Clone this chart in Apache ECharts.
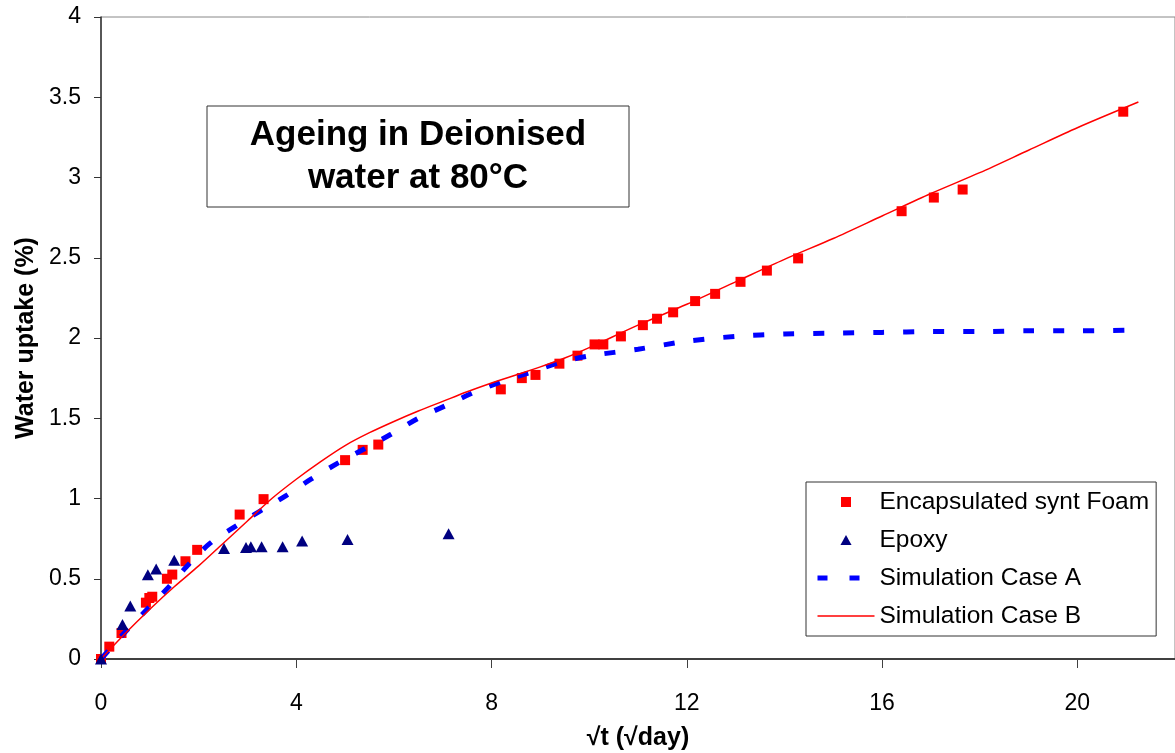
<!DOCTYPE html>
<html>
<head>
<meta charset="utf-8">
<script src="https://cdn.jsdelivr.net/npm/echarts@6/dist/echarts.min.js"></script>
<style>
  html, body { margin: 0; padding: 0; background: #fff; }
  #chart { width: 1175px; height: 753px; }
</style>
</head>
<body>
<div id="chart"></div>
<script>
// values (x = sqrt(day), y = water uptake %)
const foamX = [0, 0.17, 0.42, 0.92, 0.99, 1.05, 1.35, 1.46, 1.73, 1.97, 2.84, 3.33, 5.0, 5.36, 5.68, 8.19, 8.62, 8.9, 9.39, 9.76, 10.11, 10.29, 10.65, 11.1, 11.39, 11.72, 12.17, 12.58, 13.1, 13.64, 14.28, 16.4, 17.06, 17.65, 20.94];
const foamY = [0, 0.077, 0.162, 0.351, 0.38, 0.388, 0.5, 0.526, 0.609, 0.68, 0.9, 0.996, 1.239, 1.303, 1.336, 1.68, 1.75, 1.77, 1.84, 1.89, 1.96, 1.96, 2.01, 2.08, 2.12, 2.16, 2.23, 2.275, 2.35, 2.42, 2.496, 2.79, 2.875, 2.925, 3.41];

const epoxyX = [0, 0.44, 0.6, 0.96, 1.13, 1.5, 2.52, 2.97, 3.07, 3.29, 3.72, 4.12, 5.05, 7.12];
const epoxyY = [0, 0.215, 0.33, 0.525, 0.56, 0.615, 0.688, 0.694, 0.70, 0.70, 0.70, 0.735, 0.745, 0.78];

const simAX = [0, 0.5, 0.93, 1.36, 1.75, 2.23, 2.77, 3.25, 3.8, 4.3, 4.85, 5.4, 5.94, 6.5, 7.07, 7.63, 8.23, 8.84, 9.42, 10.03, 11, 12, 13, 14, 15, 16, 17, 18, 19, 20, 21.2];
const simAY = [0, 0.17, 0.305, 0.44, 0.575, 0.72, 0.83, 0.92, 1.02, 1.12, 1.22, 1.31, 1.40, 1.50, 1.58, 1.66, 1.73, 1.79, 1.85, 1.89, 1.93, 1.98, 2.01, 2.025, 2.03, 2.035, 2.04, 2.04, 2.045, 2.045, 2.05];

const simBX = [0, 0.5, 1, 1.5, 2, 2.5, 3, 3.5, 4, 4.5, 5, 5.5, 6, 6.5, 7, 7.5, 8, 8.5, 9, 9.5, 10, 11, 12, 13, 14, 15, 16, 17, 18, 19, 20, 21.25];
const simBY = [0, 0.16, 0.31, 0.45, 0.58, 0.72, 0.86, 1.0, 1.12, 1.23, 1.33, 1.41, 1.48, 1.545, 1.605, 1.665, 1.72, 1.77, 1.82, 1.875, 1.94, 2.08, 2.21, 2.35, 2.49, 2.62, 2.76, 2.90, 3.03, 3.17, 3.31, 3.47];

const xTicks = [0, 4, 8, 12, 16, 20];

const pairs = (xs, ys) => xs.map((x, i) => [x, ys[i]]);
const font = '"Liberation Sans", Arial, sans-serif';

const myChart = echarts.init(document.getElementById('chart'));

const option = {
  animation: false,
  textStyle: { fontFamily: font },
  grid: {
    left: 101, right: 0, top: 17, bottom: 94,
    outerBoundsMode: 'none',
    containLabel: false,
    show: true, borderColor: '#888', borderWidth: 1
  },
  xAxis: {
    type: 'value',
    min: 0, max: 22, interval: 4,
    name: '√t (√day)',
    nameLocation: 'middle',
    nameGap: 67,
    nameTextStyle: { fontSize: 25, fontWeight: 'bold', color: '#000', fontFamily: font },
    axisLine: { lineStyle: { color: '#404040', width: 2 } },
    axisTick: { length: 9, lineStyle: { color: '#404040' } },
    axisLabel: {
      fontSize: 23, color: '#000', margin: 33, fontFamily: font,
      showMaxLabel: false,
      formatter: v => xTicks.includes(v) ? String(v) : ''
    },
    splitLine: { show: false }
  },
  yAxis: {
    type: 'value',
    min: 0, max: 4, interval: 0.5,
    name: 'Water uptake (%)',
    nameLocation: 'middle',
    nameGap: 57,
    nameTextStyle: { fontSize: 25, fontWeight: 'bold', color: '#000', fontFamily: font },
    axisLine: { show: true, lineStyle: { color: '#333', width: 1.5 } },
    axisTick: { show: true, length: 7, lineStyle: { color: '#333' } },
    axisLabel: { fontSize: 23, color: '#000', margin: 20, fontFamily: font },
    splitLine: { show: false }
  },
  legend: {
    orient: 'vertical',
    left: 806, top: 482,
    padding: [6, 7, 6, 9],
    itemGap: 10,
    itemWidth: 57,
    itemHeight: 10,
    symbolKeepAspect: true,
    borderColor: '#333',
    borderWidth: 1,
    backgroundColor: '#fff',
    textStyle: { fontSize: 24.5, color: '#000', lineHeight: 28, fontFamily: font },
    data: [
      { name: 'Encapsulated synt Foam', icon: 'path://M0,0h10v10h-10z' },
      { name: 'Epoxy', icon: 'path://M5,0L10,9L0,9Z' },
      {
        name: 'Simulation Case A',
        itemStyle: { opacity: 0 },
        lineStyle: { width: 5, type: [10, 22], color: '#0000ff' }
      },
      {
        name: 'Simulation Case B',
        itemStyle: { opacity: 0 },
        lineStyle: { width: 1.5, color: '#ff0000' }
      }
    ]
  },
  graphic: [
    {
      type: 'rect',
      shape: { x: 207, y: 106, width: 422, height: 101 },
      style: { fill: '#fff', stroke: '#333', lineWidth: 1 },
      z: 10
    },
    {
      type: 'text',
      x: 418, y: 157,
      style: {
        text: 'Ageing in Deionised\nwater at 80°C',
        font: 'bold 35px ' + font,
        fill: '#000',
        align: 'center',
        verticalAlign: 'middle',
        lineHeight: 43
      },
      z: 11
    }
  ],
  series: [
    {
      name: 'Encapsulated synt Foam',
      type: 'scatter',
      symbol: 'rect',
      symbolSize: 10,
      itemStyle: { color: '#ff0000', opacity: 1 },
      data: pairs(foamX, foamY),
      z: 3
    },
    {
      name: 'Epoxy',
      type: 'scatter',
      symbol: 'triangle',
      symbolSize: [12, 11],
      itemStyle: { color: '#000080', opacity: 1 },
      data: pairs(epoxyX, epoxyY),
      z: 5
    },
    {
      name: 'Simulation Case A',
      type: 'line',
      showSymbol: false,
      symbol: 'none',
      smooth: 0.3,
      lineStyle: { color: '#0000ff', width: 5, type: [11, 19] },
      itemStyle: { color: '#0000ff' },
      data: pairs(simAX, simAY),
      z: 4
    },
    {
      name: 'Simulation Case B',
      type: 'line',
      showSymbol: false,
      symbol: 'none',
      smooth: 0.3,
      lineStyle: { color: '#ff0000', width: 1.5 },
      itemStyle: { color: '#ff0000' },
      data: pairs(simBX, simBY),
      z: 4
    }
  ]
};
option && myChart.setOption(option);
</script>
</body>
</html>
